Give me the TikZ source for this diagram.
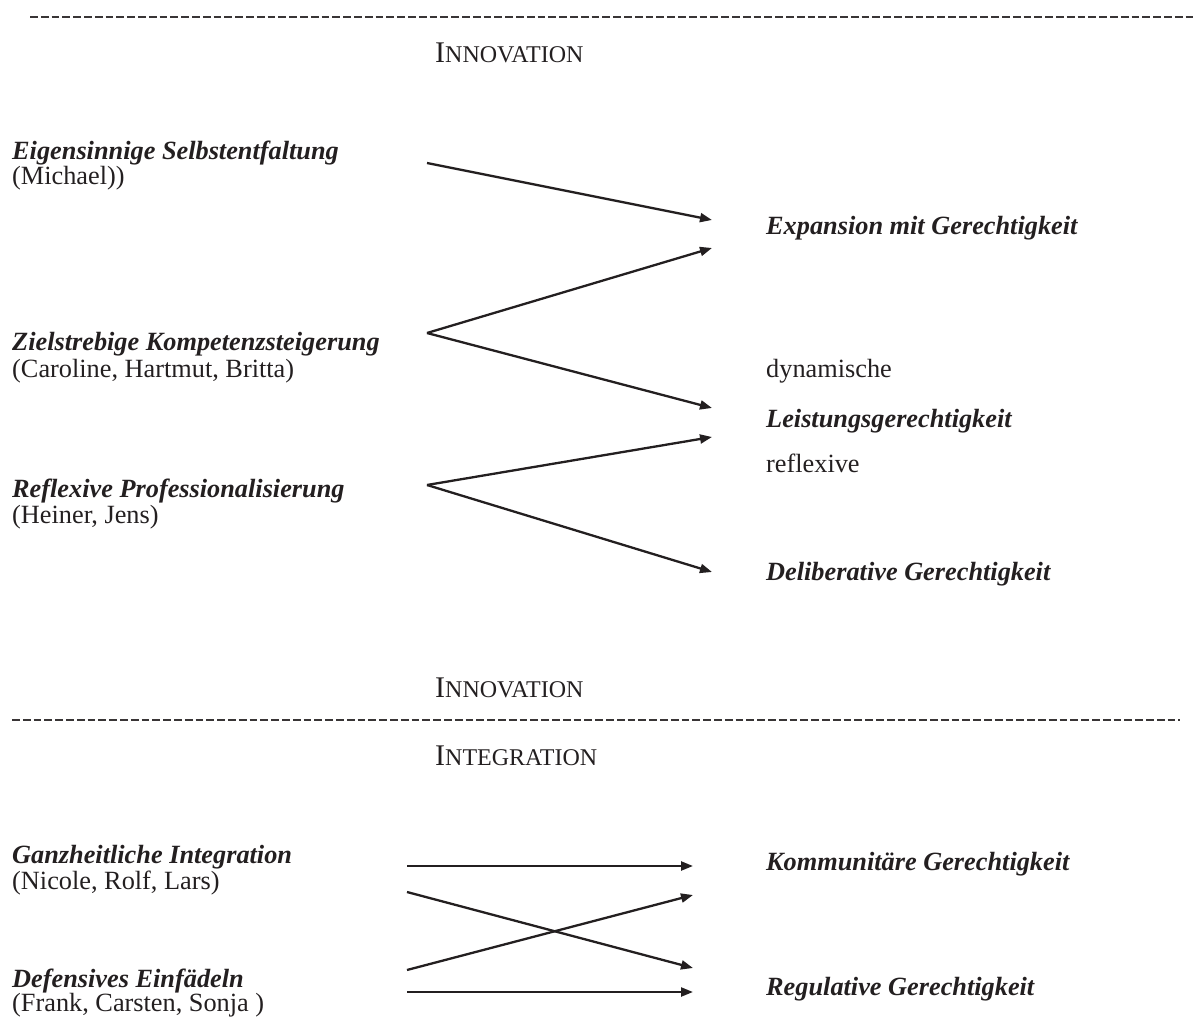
\documentclass[tikz,border=0pt]{standalone}
\usepackage{fontspec}
\setmainfont{Liberation Serif}
\usetikzlibrary{arrows.meta}
\definecolor{ink}{HTML}{231F20}
\newcommand{\headsc}[2]{{\fontsize{30}{36}\selectfont #1\fontsize{24}{30}\selectfont #2}}
\tikzset{
  lbl/.style={anchor=base west, inner sep=0pt, text=ink, font=\fontsize{26.3}{30}\selectfont},
  typ/.style={lbl, font=\fontsize{26.3}{30}\selectfont\bfseries\itshape},
  head/.style={anchor=base west, inner sep=0pt, text=ink},
  arr/.style={line width=2.3pt, -{Triangle[length=12pt,width=9pt]}, color=ink},
  sep/.style={line width=2.8pt, dash pattern=on 7.8pt off 3pt, color=ink!90}
}
\begin{document}
\begin{tikzpicture}[x=1pt,y=-1pt]
\useasboundingbox (0,0) rectangle (1195,1027);
% separators
\coordinate (s1a) at (30,17);  \coordinate (s1b) at (1195,17);
\coordinate (s2a) at (12,720); \coordinate (s2b) at (1180,720);
\draw[sep] (s1a) -- (s1b);
\draw[sep] (s2a) -- (s2b);
% headings
\node[head] (h1) at (435,63) {\headsc{I}{NNOVATION}};
\node[head] (h2) at (435,697) {\headsc{I}{NNOVATION}};
\node[head] (h3) at (435,765) {\headsc{I}{NTEGRATION}};
% left labels
\node[typ] (l1) at (12,160) {Eigensinnige Selbstentfaltung};
\node[lbl] (l1n) at (12,185) {(Michael))};
\node[typ] (l2) at (12,350) {Zielstrebige Kompetenzsteigerung};
\node[lbl] (l2n) at (12,377) {(Caroline, Hartmut, Britta)};
\node[typ] (l3) at (12,497) {Reflexive Professionalisierung};
\node[lbl] (l3n) at (12,523) {(Heiner, Jens)};
\node[typ] (l4) at (12,863) {Ganzheitliche Integration};
\node[lbl] (l4n) at (12,889) {(Nicole, Rolf, Lars)};
\node[typ] (l5) at (12,987) {Defensives Einfädeln};
\node[lbl] (l5n) at (12,1011) {(Frank, Carsten, Sonja )};
% right labels
\node[typ] (r1) at (766,235) {Expansion mit Gerechtigkeit};
\node[lbl] (r2a) at (766,377) {dynamische};
\node[typ] (r2) at (766,427) {Leistungsgerechtigkeit};
\node[lbl] (r2b) at (766,472) {reflexive};
\node[typ] (r3) at (766,580) {Deliberative Gerechtigkeit};
\node[typ] (r4) at (766,870) {Kommunitäre Gerechtigkeit};
\node[typ] (r5) at (766,995) {Regulative Gerechtigkeit};
% arrow end points
\coordinate (p1) at (427,163);
\coordinate (p2) at (427,333);
\coordinate (p3) at (427,485);
\coordinate (e1) at (712,220);
\coordinate (e2) at (712,248);
\coordinate (e3) at (712,408);
\coordinate (e4) at (712,437);
\coordinate (e5) at (712,572);
\coordinate (q1) at (407,866);
\coordinate (q2) at (407,892);
\coordinate (q3) at (407,970);
\coordinate (q4) at (407,992);
\coordinate (f1) at (693,866);
\coordinate (f2) at (693,968);
\coordinate (f3) at (693,895);
\coordinate (f4) at (693,992);
% arrows
\draw[arr] (p1) -- (e1);
\draw[arr] (p2) -- (e2);
\draw[arr] (p2) -- (e3);
\draw[arr] (p3) -- (e4);
\draw[arr] (p3) -- (e5);
\draw[arr] (q1) -- (f1);
\draw[arr] (q2) -- (f2);
\draw[arr] (q3) -- (f3);
\draw[arr] (q4) -- (f4);
\end{tikzpicture}
\end{document}
